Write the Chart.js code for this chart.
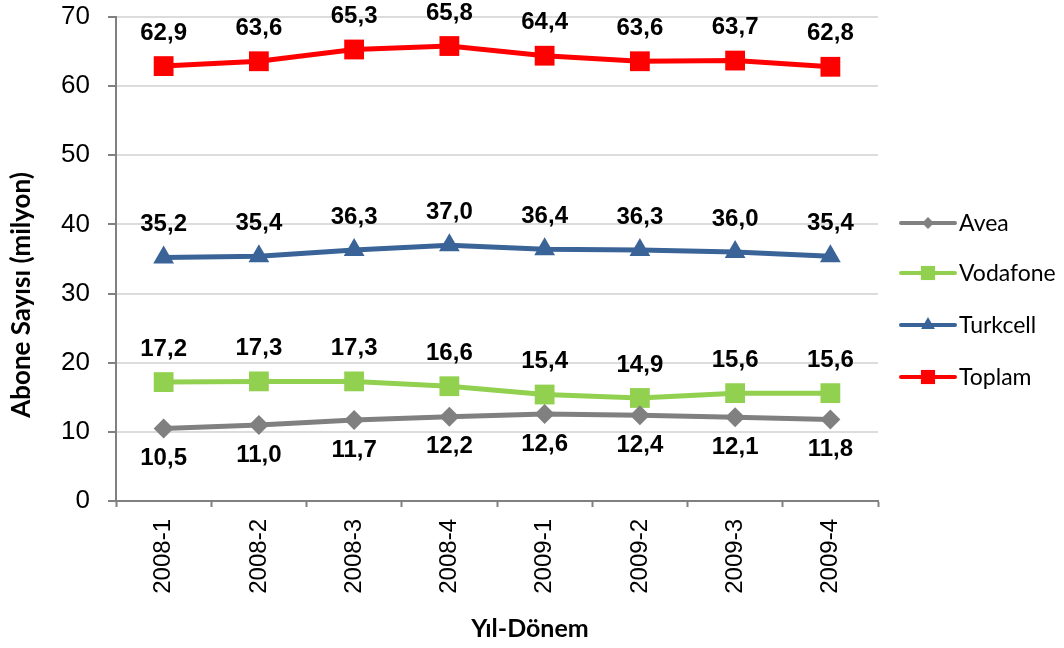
<!DOCTYPE html>
<html>
<head>
<meta charset="utf-8">
<script src="https://cdn.jsdelivr.net/npm/chart.js@4/dist/chart.umd.min.js"></script>
<style>
  html, body { margin: 0; padding: 0; background: #ffffff; }
  #wrap { width: 1064px; height: 648px; }
</style>
</head>
<body>
<div id="wrap"><canvas id="c" width="1064" height="648"></canvas></div>
<script>
const categories = ['2008-1', '2008-2', '2008-3', '2008-4', '2009-1', '2009-2', '2009-3', '2009-4'];
const avea     = [10.5, 11.0, 11.7, 12.2, 12.6, 12.4, 12.1, 11.8];
const vodafone = [17.2, 17.3, 17.3, 16.6, 15.4, 14.9, 15.6, 15.6];
const turkcell = [35.2, 35.4, 36.3, 37.0, 36.4, 36.3, 36.0, 35.4];
const toplam   = [62.9, 63.6, 65.3, 65.8, 64.4, 63.6, 63.7, 62.8];
const seriesNames = ['Avea', 'Vodafone', 'Turkcell', 'Toplam'];
const yMin = 0, yMax = 70, yStep = 10;
const xTitle = 'Yıl-Dönem';
const yTitle = 'Abone Sayısı (milyon)';

const colors = ['#808080', '#92D050', '#3A6397', '#FF0000'];
const styles = ['rectRot', 'rect', 'triangle', 'rect'];
const radii = [10, 14, 12, 14];
const legendRadii = [6, 10, 8, 10];
const labelOffsets = [30, -33, -33, -33];

const fmt = v => v.toFixed(1).replace('.', ',');

const seriesData = [avea, vodafone, turkcell, toplam];
const datasets = seriesData.map((d, i) => ({
  label: seriesNames[i],
  data: d,
  borderColor: colors[i],
  backgroundColor: colors[i],
  borderWidth: 5,
  pointStyle: styles[i],
  pointRadius: radii[i],
  pointHoverRadius: radii[i],
  pointBorderWidth: 0,
  pointBackgroundColor: colors[i],
  tension: 0,
  fill: false
}));

const dataLabels = {
  id: 'dataLabels',
  afterDatasetsDraw(chart) {
    const ctx = chart.ctx;
    ctx.save();
    ctx.font = 'bold 24px "Liberation Sans", Arial, sans-serif';
    ctx.fillStyle = '#000000';
    ctx.textAlign = 'center';
    ctx.textBaseline = 'middle';
    chart.data.datasets.forEach((ds, i) => {
      const meta = chart.getDatasetMeta(i);
      meta.data.forEach((pt, j) => {
        ctx.fillText(fmt(ds.data[j]), pt.x, pt.y + labelOffsets[i]);
      });
    });
    ctx.restore();
  }
};

const extras = {
  id: 'extras',
  afterDraw(chart) {
    const ctx = chart.ctx;
    ctx.save();
    ctx.fillStyle = '#000000';
    ctx.textAlign = 'center';
    ctx.textBaseline = 'middle';
    ctx.font = 'bold 25px Lato, "Open Sans", sans-serif';
    ctx.fillText(xTitle, 530, 629);
    ctx.save();
    ctx.translate(22, 295);
    ctx.rotate(-Math.PI / 2);
    ctx.font = 'bold 26px Lato, "Open Sans", sans-serif';
    ctx.fillText(yTitle, 0, 0);
    ctx.restore();
    // legend
    const lx0 = 901, lx1 = 955, mx = 928, tx = 959;
    const ys = [223, 273, 325, 377];
    ctx.font = '23px Lato, "Open Sans", sans-serif';
    ctx.textAlign = 'left';
    chart.data.datasets.forEach((ds, i) => {
      const y = ys[i];
      ctx.strokeStyle = colors[i];
      ctx.lineWidth = 4;
      ctx.lineCap = 'round';
      ctx.beginPath();
      ctx.moveTo(lx0, y);
      ctx.lineTo(lx1, y);
      ctx.stroke();
      ctx.fillStyle = colors[i];
      Chart.helpers.drawPoint(ctx, {
        pointStyle: styles[i], radius: legendRadii[i], rotation: 0, borderWidth: 0
      }, mx, y);
      ctx.fillStyle = '#000000';
      ctx.fillText(ds.label, tx, y + 1);
    });
    ctx.restore();
  }
};

new Chart(document.getElementById('c'), {
  type: 'line',
  data: { labels: categories, datasets },
  plugins: [dataLabels, extras],
  options: {
    responsive: false,
    animation: false,
    events: [],
    layout: { padding: { left: 0, right: 186, top: 17, bottom: 0 } },
    plugins: { legend: { display: false }, tooltip: { enabled: false } },
    scales: {
      x: {
        type: 'category',
        offset: true,
        afterFit(scale) { scale.height = 147; scale.paddingLeft = 0; scale.paddingRight = 0; },
        grid: {
          offset: true,
          drawOnChartArea: false,
          drawTicks: true,
          tickLength: 6,
          tickColor: '#808080',
          tickWidth: 2,
          color: '#808080'
        },
        border: { color: '#808080', width: 2 },
        ticks: {
          minRotation: 90,
          maxRotation: 90,
          padding: 12,
          color: '#000000',
          font: { family: 'Liberation Sans', size: 24 }
        }
      },
      y: {
        min: yMin,
        max: yMax,
        afterFit(scale) { scale.width = 116; scale.paddingTop = 0; scale.paddingBottom = 0; },
        grid: {
          color: '#dcdcdc',
          lineWidth: 2,
          drawTicks: true,
          tickLength: 8,
          tickColor: '#808080',
          tickWidth: 2
        },
        border: { color: '#808080', width: 2 },
        ticks: {
          stepSize: yStep,
          padding: 18,
          color: '#000000',
          font: { family: 'Liberation Sans', size: 26 }
        }
      }
    }
  }
});
</script>
</body>
</html>
